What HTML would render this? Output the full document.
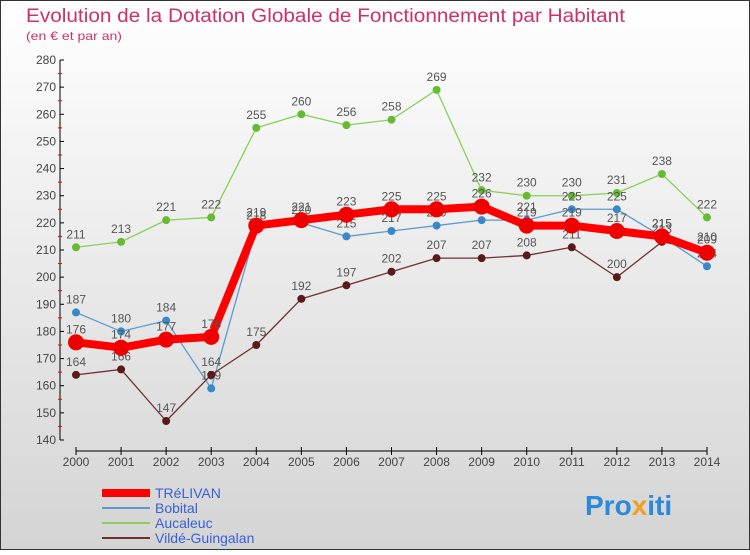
<!DOCTYPE html>
<html><head><meta charset="utf-8"><style>
body{margin:0;width:750px;height:550px;overflow:hidden;font-family:"Liberation Sans",sans-serif}
</style></head><body>
<svg id="c" width="750" height="550" xmlns="http://www.w3.org/2000/svg">
<defs><linearGradient id="bg" x1="0" y1="0" x2="0" y2="1"><stop offset="0" stop-color="#ffffff"/><stop offset="1" stop-color="#d4d4d4"/></linearGradient></defs>
<rect x="0.5" y="0.5" width="749" height="549" fill="url(#bg)" stroke="#333"/>
<text x="26" y="22" font-size="19" fill="#d0306a" textLength="599" lengthAdjust="spacingAndGlyphs">Evolution de la Dotation Globale de Fonctionnement par Habitant</text>
<text x="26" y="40" font-size="12" fill="#d0306a" textLength="96" lengthAdjust="spacingAndGlyphs">(en € et par an)</text>
<g id="axes"></g><g id="series"></g><g id="legend"></g>
<text x="585" y="515" font-size="28" font-weight="bold" fill="#2a8ad8">Pro<tspan fill="#f0a020">x</tspan>iti</text>
</svg>
<script>
const years=[2000,2001,2002,2003,2004,2005,2006,2007,2008,2009,2010,2011,2012,2013,2014];
const yTicks=[140,150,160,170,180,190,200,210,220,230,240,250,260,270,280];
const trelivan=[176,174,177,178,219,221,223,225,225,226,219,219,217,215,209];
const bobital=[187,180,184,159,218,220,215,217,219,221,221,225,225,215,204];
const aucaleuc=[211,213,221,222,255,260,256,258,269,232,230,230,231,238,222];
const vilde=[164,166,147,164,175,192,197,202,207,207,208,211,200,213,210];
const seriesNames=["TRéLIVAN","Bobital","Aucaleuc","Vildé-Guingalan"];
const NS="http://www.w3.org/2000/svg";
const X=i=>76+i*(707-76)/14;
const Y=v=>440-(v-140)*(380/140);
function mk(p,t,a){const e=document.createElementNS(NS,t);for(const k in a)e.setAttribute(k,a[k]);p.appendChild(e);return e;}
const ax=document.getElementById('axes');
const yl=mk(ax,'line',{x1:60,y1:60,x2:60,y2:440,stroke:'#000'});


yTicks.forEach(v=>{
 mk(ax,'line',{x1:60,x2:64,y1:Y(v),y2:Y(v),stroke:'#000'});
 if(v<280)mk(ax,'line',{x1:58,x2:62,y1:Y(v+5),y2:Y(v+5),stroke:'#e00'});
 const t=mk(ax,'text',{x:56,y:Y(v)+4,'font-size':12,fill:'#444','text-anchor':'end'});t.textContent=v;
 
 
});
const xl=mk(ax,'line',{x1:76,y1:451,x2:707,y2:451,stroke:'#000'});


years.forEach((y,i)=>{
 mk(ax,'line',{x1:X(i),x2:X(i),y1:447,y2:455,stroke:'#000'});
 const t=mk(ax,'text',{x:X(i),y:466,'font-size':12,fill:'#444','text-anchor':'middle'});t.textContent=y;
 
 
});
const sg=document.getElementById('series');
const defs=[[aucaleuc,'#88d058','#66bb33',1.3,4,'aucaleuc'],[bobital,'#5a9ad0','#3a88c8',1.3,4,'bobital'],[vilde,'#703030','#5a1a1a',1.3,4,'vilde-guingalan'],[trelivan,'#ff0000','#ee0000',8,8,'trelivan']];
defs.forEach(([d,lc,dc,w,r,n])=>{
 const g=mk(sg,'g',{});
 
 
 mk(g,'polyline',{points:d.map((v,i)=>X(i)+','+Y(v)).join(' '),fill:'none',stroke:lc,'stroke-width':w,'stroke-linejoin':'round'});
 d.forEach((v,i)=>{
  const c=mk(g,'circle',{cx:X(i),cy:Y(v),r:r,fill:dc});
  
  
  const t=mk(g,'text',{x:X(i),y:Y(v)-9,'font-size':12,fill:'#555','text-anchor':'middle'});t.textContent=v;
  
  
 });
});
const lg=document.getElementById('legend');
const lstyle=[['#ff0000',8],['#5a9ad0',2],['#88d058',2],['#703030',2]];
seriesNames.forEach((s,i)=>{
 const y=493+i*15;
 const l=mk(lg,'line',{x1:102,x2:150,y1:y,y2:y,stroke:lstyle[i][0],'stroke-width':lstyle[i][1]});
 
 
 const t=mk(lg,'text',{x:155,y:y+5,'font-size':14,fill:'#3a60d8'});t.textContent=s;
 
 
});
</script>
</body></html>
